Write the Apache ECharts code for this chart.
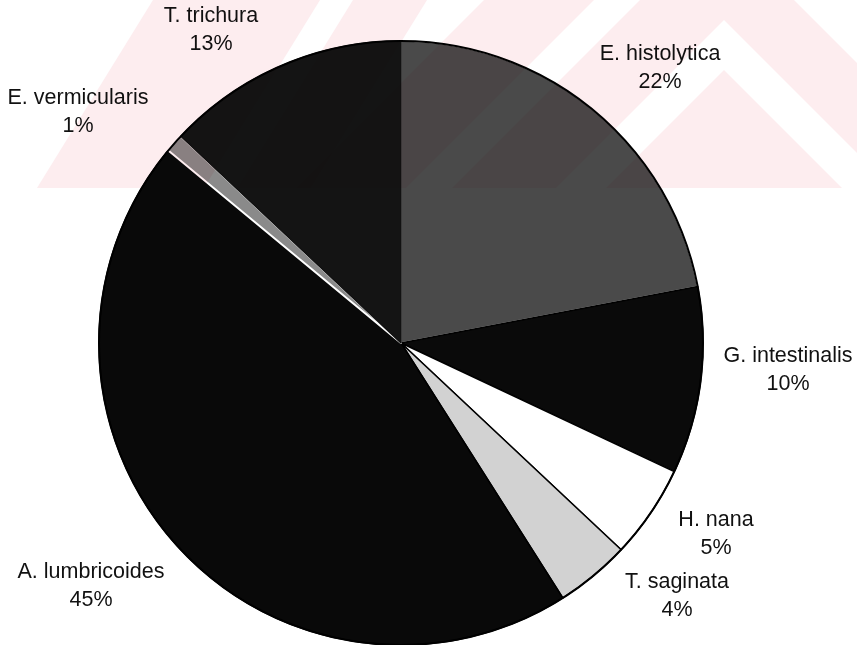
<!DOCTYPE html>
<html>
<head>
<meta charset="utf-8">
<script src="https://cdn.jsdelivr.net/npm/echarts@6/dist/echarts.min.js"></script>
<style>
  html, body { margin: 0; padding: 0; background: #ffffff; }
  #chart { width: 857px; height: 645px; }
</style>
</head>
<body>
<div id="chart"></div>
<script>
// ---- data ----
const categories = ['E. histolytica', 'G. intestinalis', 'H. nana', 'T. saginata', 'A. lumbricoides', 'E. vermicularis', 'T. trichura'];
const percents = [22, 10, 5, 4, 45, 1, 13];

// ---- styles / layout (not data) ----
const sliceFill = ['#4a4a4a', '#0a0a0a', '#ffffff', '#d2d2d2', '#090909', '#8a8a8a', '#141414'];
const sliceBorder = ['#e6e6e6', '#000000', '#000000', '#000000', '#000000', '#ffffff', '#111111'];
const sliceBorderWidth = [1.5, 1.5, 1.5, 1.5, 1.5, 2, 1.5];
const labelPos = [[660, 68], [788, 370], [716, 534], [677, 596], [91, 586], [78, 112], [211, 30]];

const chart = echarts.init(document.getElementById('chart'), null, { renderer: 'canvas' });

const pieData = categories.map((name, i) => ({
  name: name,
  value: percents[i],
  itemStyle: { color: sliceFill[i], borderColor: sliceBorder[i], borderWidth: sliceBorderWidth[i] }
}));

const pink = '#fdedef';
const wm = (pts) => ({
  type: 'polygon', z: 100, silent: true,
  shape: { points: pts },
  style: { fill: pink, blend: 'multiply' }
});

chart.setOption({
  animation: false,
  backgroundColor: '#ffffff',
  series: [
    {
      type: 'pie',
      center: [401, 343],
      radius: 302,
      startAngle: 90,
      clockwise: true,
      silent: true,
      z: 2,
      data: pieData,
      avoidLabelOverlap: false,
      label: {
        show: true,
        position: 'outside',
        formatter: '{b}\n{c}%',
        fontFamily: 'Liberation Sans, Arial, sans-serif',
        fontSize: 21.5,
        lineHeight: 28,
        color: '#111111',
        align: 'center',
        overflow: 'none',
        width: 200
      },
      labelLine: { show: false },
      labelLayout: function (params) {
        const p = labelPos[params.dataIndex];
        return { x: p[0], y: p[1], align: 'center', verticalAlign: 'middle', hideOverlap: false };
      }
    },
    {
      type: 'pie',
      center: [401, 343],
      radius: 302,
      silent: true,
      z: 3,
      data: [{ value: percents.reduce((a, b) => a + b, 0), name: 'outline' }],
      itemStyle: { color: 'rgba(0,0,0,0)', borderColor: '#000000', borderWidth: 2 },
      label: { show: false },
      labelLine: { show: false }
    }
  ],
  graphic: [
    wm([[153, 0], [320, 0], [204, 188], [37, 188]]),
    wm([[353, 0], [427, 0], [311, 188], [237, 188]]),
    wm([[484, 0], [594, 0], [406, 188], [296, 188]]),
    wm([[640, 0], [794, 0], [857, 63], [857, 153], [724, 20], [556, 188], [452, 188]]),
    wm([[724, 70], [606, 188], [842, 188]])
  ]
});
</script>
</body>
</html>
